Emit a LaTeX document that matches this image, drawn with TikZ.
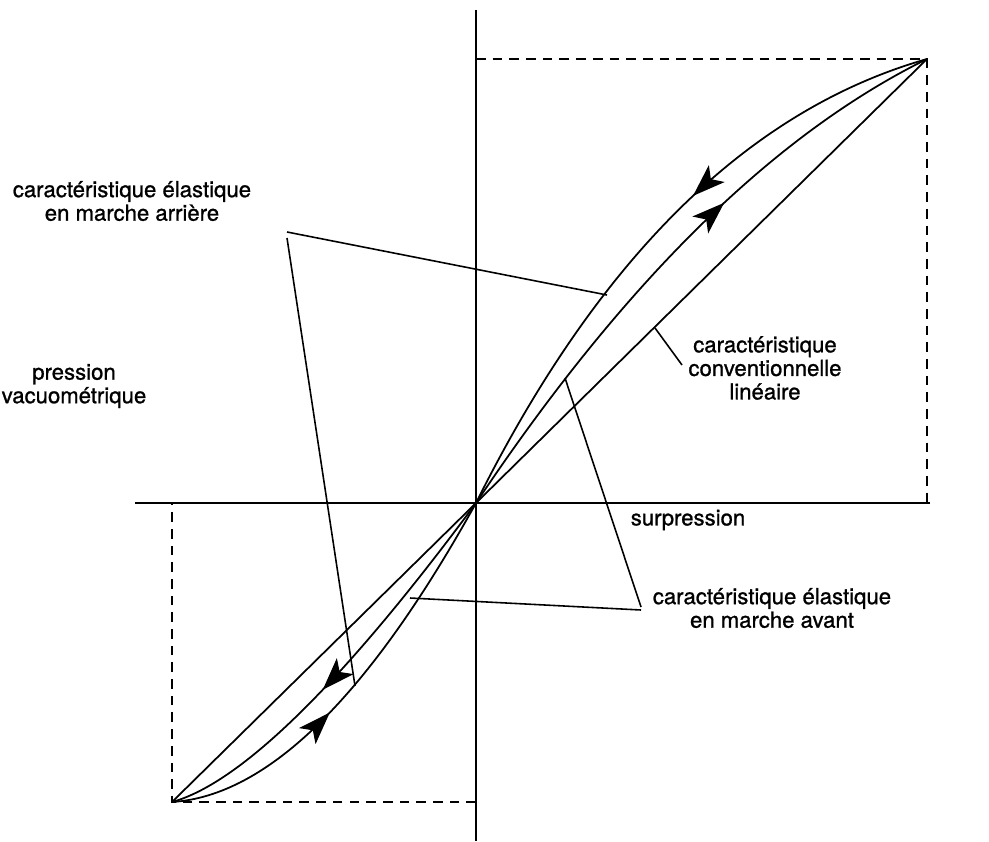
\documentclass[tikz,border=0pt]{standalone}
\usepackage{fontspec}
\setmainfont{TeX Gyre Heros}[FakeBold=1.0]
\usetikzlibrary{arrows.meta,decorations.markings}

\begin{document}
\begin{tikzpicture}[x=0.02cm,y=-0.02cm,
  axe/.style={line width=1.2pt},
  pointille/.style={line width=1pt,dash pattern=on 5.5pt off 4pt},
  courbe/.style={line width=1pt},
  renvoi/.style={line width=0.9pt},
  legende/.style={align=center,inner sep=0pt,font=\fontsize{12.6}{13.4}\selectfont},
  fleche/.style={postaction={decorate},decoration={markings,
    mark=at position #1 with {\arrow{Stealth[length=6.5mm,width=4.6mm,inset=1.6mm]}}}}]
\useasboundingbox (0,0) rectangle (989,841);
% points du cycle
\coordinate (O) at (476,503);
\coordinate (P) at (927,59);
\coordinate (Q) at (172,802);
% axes
\draw[axe] (476,10) -- (476,841);
\draw[axe] (135,503) -- (930,503);
\draw[pointille] (O |- P) -- (P) -- (P |- O);
\draw[pointille] (O |- Q) -- (Q) -- (Q |- O);
% caracteristiques
\draw[courbe] (Q) -- (O) -- (P);
\draw[courbe,fleche=0.42] (P) .. controls (748,110) and (598,258) .. (O);
\draw[courbe,fleche=0.61] (O) .. controls (623,283) and (773,135) .. (P);
\draw[courbe,fleche=0.42] (Q) .. controls (268,796) and (369,696) .. (O);
\draw[courbe,fleche=0.56] (O) .. controls (343,683) and (241,783) .. (Q);
% legendes
\node[legende] (arriere) at (132,201) {caractéristique élastique\\en marche arrière};
\node[legende] (vacuo) at (74,386) {pression\\vacuométrique};
\node[legende] (lineaire) at (765,368) {caractéristique\\conventionnelle\\linéaire};
\node[legende] (surp) at (688,520) {surpression};
\node[legende] (avant) at (772,608) {caractéristique élastique\\en marche avant};
% renvois
\coordinate (ar1) at (287,232);
\coordinate (ar2) at (287,238);
\coordinate (ar3) at (607,295);
\coordinate (ar4) at (355,686);
\coordinate (li1) at (682,365);
\coordinate (li2) at (655,328);
\coordinate (av1) at (641,607);
\coordinate (av2) at (641,610);
\coordinate (av3) at (565,378);
\coordinate (av4) at (410,598);
\draw[renvoi] (ar1) -- (ar3);
\draw[renvoi] (ar2) -- (ar4);
\draw[renvoi] (li1) -- (li2);
\draw[renvoi] (av1) -- (av3);
\draw[renvoi] (av2) -- (av4);
\end{tikzpicture}
\end{document}
